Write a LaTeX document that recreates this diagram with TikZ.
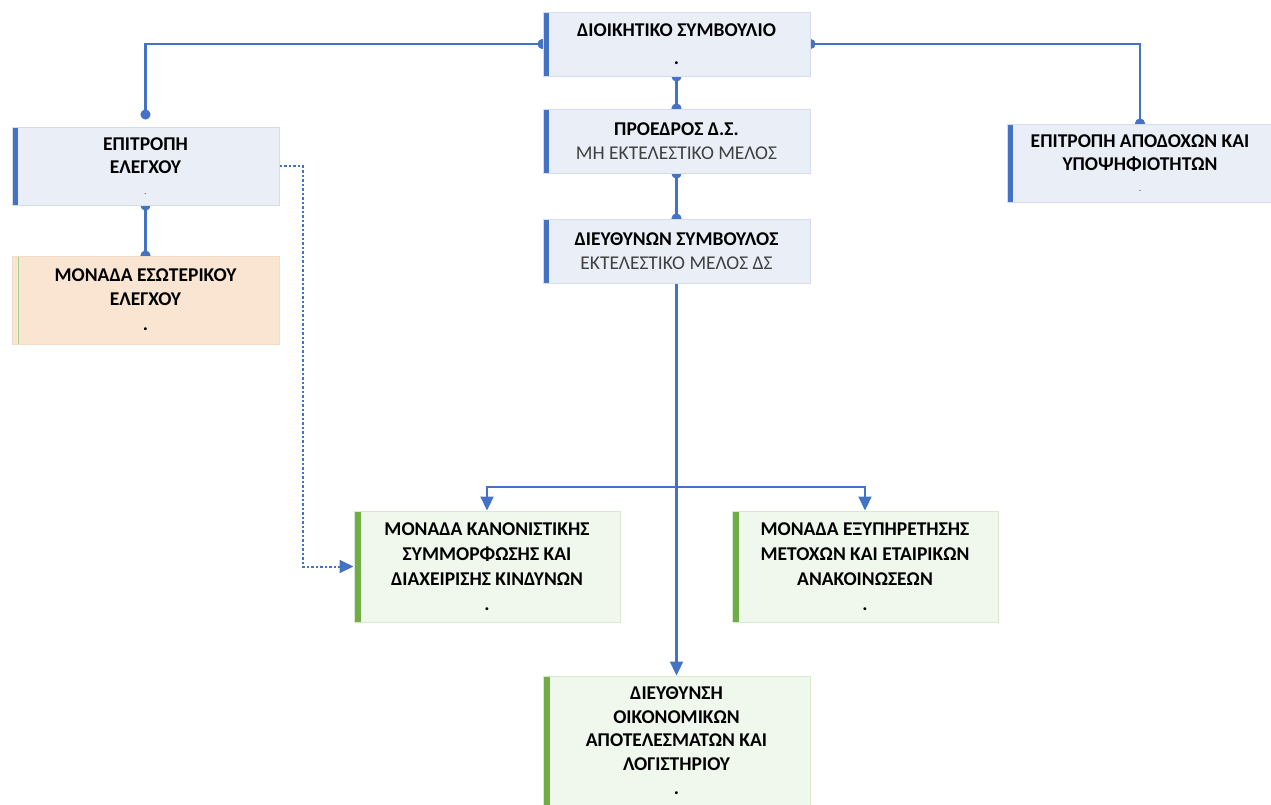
\documentclass[tikz,border=0pt]{standalone}
\usepackage{fontspec}
\setmainfont{Carlito}
\usetikzlibrary{arrows.meta,backgrounds}
\definecolor{lineblue}{RGB}{68,114,196}
\definecolor{boxblue}{RGB}{234,239,247}
\definecolor{edgeblue}{RGB}{212,220,237}
\definecolor{boxgreen}{RGB}{240,247,236}
\definecolor{edgegreen}{RGB}{216,234,205}
\definecolor{bargreen}{RGB}{112,173,71}
\definecolor{boxpeach}{RGB}{250,229,211}
\definecolor{edgepeach}{RGB}{244,220,200}
\definecolor{barpeach}{RGB}{169,209,142}
\definecolor{subgrey}{RGB}{64,64,64}

\begin{document}
\begin{tikzpicture}[x=1pt,y=-1pt,
  unit/.style={draw=edgeblue,fill=boxblue,line width=1pt,minimum width=267pt,inner sep=0pt,
    align=center,font=\fontsize{19.5}{23.5}\selectfont\bfseries,
    path picture={\fill[lineblue] (path picture bounding box.north west) rectangle ([xshift=6pt]path picture bounding box.south west);}},
  gunit/.style={unit,draw=edgegreen,fill=boxgreen,
    path picture={\fill[bargreen] (path picture bounding box.north west) rectangle ([xshift=7pt]path picture bounding box.south west);}},
  punit/.style={unit,draw=edgepeach,fill=boxpeach,
    path picture={\draw[barpeach,line width=1pt] ([xshift=0.5pt]path picture bounding box.north west) rectangle ([xshift=6pt]path picture bounding box.south west);}},
  link/.style={lineblue,line width=2.2pt,{Circle[length=10pt]}-{Circle[length=10pt]},shorten <=-5pt,shorten >=-5pt},
  feed/.style={lineblue,line width=2.2pt,-{Triangle[width=13pt,length=14pt]}},
  dotfeed/.style={lineblue,line width=2pt,dash pattern=on 2.5pt off 2pt,-{Triangle[width=13pt,length=14pt]}}]
\useasboundingbox (0,0) rectangle (1271,804);

% board and top line
\node[unit,minimum height=64pt] (ds) at (676.5,44) {ΔΙΟΙΚΗΤΙΚΟ ΣΥΜΒΟΥΛΙΟ\\[5pt].};
\node[unit,minimum height=64pt] (chair) at (676.5,141) {ΠΡΟΕΔΡΟΣ Δ.Σ.\\{\mdseries\color{subgrey}ΜΗ ΕΚΤΕΛΕΣΤΙΚΟ ΜΕΛΟΣ}};
\node[unit,minimum height=64pt] (ceo) at (676.5,251) {ΔΙΕΥΘΥΝΩΝ ΣΥΜΒΟΥΛΟΣ\\{\mdseries\color{subgrey}ΕΚΤΕΛΕΣΤΙΚΟ ΜΕΛΟΣ ΔΣ}};

% committees
\node[unit,minimum height=78pt] (audit) at (145.5,166) {ΕΠΙΤΡΟΠΗ\\ΕΛΕΓΧΟΥ\\[-3pt]{\fontsize{8}{8}\selectfont\mdseries .}};
\node[punit,minimum height=88pt] (internal) at (145.5,300) {ΜΟΝΑΔΑ ΕΣΩΤΕΡΙΚΟΥ\\ΕΛΕΓΧΟΥ\\[2pt].};
\node[unit,minimum width=266pt,minimum height=78pt] (remun) at (1140,163) {ΕΠΙΤΡΟΠΗ ΑΠΟΔΟΧΩΝ ΚΑΙ\\ΥΠΟΨΗΦΙΟΤΗΤΩΝ\\[-3pt]{\fontsize{8}{8}\selectfont\mdseries .}};

% units under the CEO
\node[gunit,minimum width=266pt,minimum height=111pt] (comp) at (487,566.5) {ΜΟΝΑΔΑ ΚΑΝΟΝΙΣΤΙΚΗΣ\\[1.5pt]ΣΥΜΜΟΡΦΩΣΗΣ ΚΑΙ\\[1.5pt]ΔΙΑΧΕΙΡΙΣΗΣ ΚΙΝΔΥΝΩΝ\\[1pt].};
\node[gunit,minimum width=266pt,minimum height=111pt] (share) at (865,566.5) {ΜΟΝΑΔΑ ΕΞΥΠΗΡΕΤΗΣΗΣ\\[1.5pt]ΜΕΤΟΧΩΝ ΚΑΙ ΕΤΑΙΡΙΚΩΝ\\[1.5pt]ΑΝΑΚΟΙΝΩΣΕΩΝ\\[1pt].};
\node[gunit,minimum height=130pt] (fin) at (676.5,741) {ΔΙΕΥΘΥΝΣΗ\\ΟΙΚΟΝΟΜΙΚΩΝ\\ΑΠΟΤΕΛΕΣΜΑΤΩΝ ΚΑΙ\\ΛΟΓΙΣΤΗΡΙΟΥ\\[1pt].};

\begin{pgfonlayer}{background}
\draw[link,shorten >=7pt] (ds.west) -| (audit.north);
\draw[link] (ds.east) -| (remun.north);
\draw[link] (ds.south) -- (chair.north);
\draw[link] (chair.south) -- (ceo.north);
\draw[link] (audit.south) -- (internal.north);
\draw[feed] (ceo.south) -- (fin.north);
\coordinate (fork) at (ceo.south |- 0,487);
\draw[feed] (fork) -| (comp.north);
\draw[feed] (fork) -| (share.north);
\draw[dotfeed] (audit.east) -- ++(23,0) |- (comp.west);
\end{pgfonlayer}
\end{tikzpicture}
\end{document}
